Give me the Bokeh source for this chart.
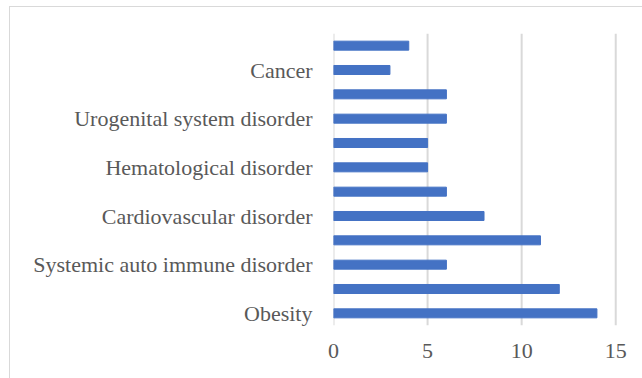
from bokeh.plotting import figure
from bokeh.models import ColumnDataSource, Range1d, FixedTicker, Span
from bokeh.embed import file_html
from bokeh.resources import INLINE

# bottom to top
labels = ["Obesity", "", "Systemic auto immune disorder", "", "Cardiovascular disorder", "",
          "Hematological disorder", "", "Urogenital system disorder", "", "Cancer", ""]
values = [14, 12, 6, 11, 8, 6, 5, 5, 6, 6, 3, 4]
x_ticks = [0, 5, 10, 15]

pos = list(range(1, len(labels) + 1))
src = ColumnDataSource(dict(y=pos, v=values))

p = figure(width=633, height=372, output_backend="svg", toolbar_location=None,
           x_range=Range1d(0, 15.2), y_range=Range1d(0.5, len(labels) + 0.5),
           min_border_left=323, min_border_right=24, min_border_top=26, min_border_bottom=54,
           margin=(6, 0, 0, 9),
           styles={"border-left": "1px solid #d9d9d9", "border-top": "1px solid #d9d9d9"})
p.outline_line_color = None
for t in x_ticks:
    p.add_layout(Span(location=t, dimension="height", line_color="#d9d9d9",
                      line_width=2, level="underlay"))
p.hbar(y="y", right="v", left=0, height=0.37, source=src, color="#4472C4")

p.xaxis.ticker = FixedTicker(ticks=x_ticks)
p.yaxis.ticker = FixedTicker(ticks=[i for i, l in zip(pos, labels) if l])
p.yaxis.major_label_overrides = {i: l for i, l in zip(pos, labels) if l}
for ax in (p.xaxis[0], p.yaxis[0]):
    ax.axis_line_color = None
    ax.major_tick_line_color = None
    ax.minor_tick_line_color = None
    ax.major_label_text_font = "Liberation Serif"
    ax.major_label_text_font_size = "22px"
    ax.major_label_text_color = "#595959"
p.yaxis.major_label_standoff = 15
p.xaxis.major_label_standoff = 12
p.ygrid.grid_line_color = None
p.xgrid.grid_line_color = None

open("out.html", "w").write(file_html(p, INLINE))
